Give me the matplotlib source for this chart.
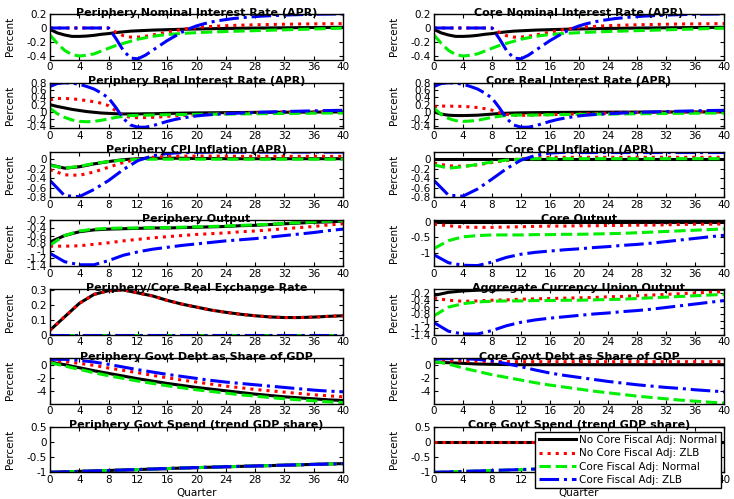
import matplotlib
matplotlib.use("Agg")
import matplotlib.pyplot as plt
import numpy as np

plt.rcParams['axes.unicode_minus'] = False
plt.rcParams['font.family'] = 'DejaVu Sans'

# quarters
Q1 = np.arange(0, 41, 1)
Q2 = np.arange(0, 41, 2)

# ---- nominal interest rate (same in both regions), quarterly
nom_black = [-0.02, -0.07, -0.10, -0.12, -0.12, -0.115, -0.105, -0.09, -0.08, -0.065, -0.055,
             -0.045, -0.04, -0.035, -0.03, -0.027, -0.024, -0.021, -0.018, -0.016, -0.014,
             -0.012, -0.01, -0.008, -0.006, -0.005, -0.004, -0.002, -0.001, 0.0, 0.001,
             0.002, 0.003, 0.004, 0.005, 0.006, 0.007, 0.008, 0.008, 0.009, 0.01]
nom_red = [0, 0, 0, 0, 0, 0, 0, 0, 0, -0.06, -0.11, -0.13, -0.13, -0.12, -0.10, -0.08, -0.06,
           -0.04, -0.02, -0.005, 0.005, 0.015, 0.022, 0.028, 0.033, 0.037, 0.04, 0.043, 0.046,
           0.048, 0.05, 0.052, 0.054, 0.055, 0.057, 0.058, 0.059, 0.06, 0.061, 0.062, 0.063]
nom_green = [-0.10, -0.22, -0.32, -0.38, -0.40, -0.39, -0.37, -0.33, -0.29, -0.25, -0.22,
             -0.19, -0.16, -0.14, -0.12, -0.105, -0.095, -0.085, -0.078, -0.072, -0.067,
             -0.062, -0.058, -0.054, -0.05, -0.047, -0.044, -0.041, -0.038, -0.035, -0.032,
             -0.029, -0.026, -0.023, -0.02, -0.017, -0.014, -0.011, -0.008, -0.005, -0.003]
nom_blue = [0, 0, 0, 0, 0, 0, 0, 0, 0, -0.15, -0.32, -0.43, -0.44, -0.39, -0.32, -0.25, -0.18,
            -0.12, -0.06, -0.01, 0.03, 0.06, 0.085, 0.105, 0.12, 0.135, 0.145, 0.155, 0.163,
            0.17, 0.175, 0.18, 0.184, 0.188, 0.191, 0.194, 0.196, 0.198, 0.199, 0.2, 0.2]

# ---- real interest rate, quarterly
per_real_black = [0.20, 0.15, 0.11, 0.07, 0.04, 0.01, -0.01, -0.03, -0.04, -0.05, -0.055,
                  -0.055, -0.055, -0.05, -0.05, -0.045, -0.04, -0.037, -0.034, -0.031, -0.028,
                  -0.026, -0.024, -0.022, -0.02, -0.018, -0.016, -0.014, -0.012, -0.011, -0.01,
                  -0.009, -0.008, -0.007, -0.006, -0.005, -0.004, -0.003, -0.002, -0.001, 0.0]
per_real_red = [0.33, 0.37, 0.37, 0.36, 0.34, 0.31, 0.28, 0.24, 0.17, 0.03, -0.10, -0.15, -0.16,
                -0.155, -0.15, -0.14, -0.12, -0.11, -0.10, -0.09, -0.08, -0.07, -0.06, -0.05,
                -0.045, -0.04, -0.035, -0.03, -0.025, -0.02, -0.015, -0.01, -0.007, -0.004,
                -0.001, 0.002, 0.005, 0.008, 0.01, 0.012, 0.014]
per_real_green = [0.10, -0.05, -0.15, -0.22, -0.26, -0.27, -0.26, -0.23, -0.19, -0.15, -0.12,
                  -0.10, -0.095, -0.09, -0.085, -0.08, -0.078, -0.075, -0.072, -0.07, -0.067,
                  -0.065, -0.063, -0.061, -0.059, -0.057, -0.055, -0.053, -0.051, -0.049, -0.047,
                  -0.045, -0.043, -0.041, -0.039, -0.037, -0.035, -0.033, -0.031, -0.03, -0.03]
real_blue = [0.70, 0.78, 0.80, 0.79, 0.76, 0.70, 0.63, 0.52, 0.38, 0.12, -0.18, -0.36, -0.42,
             -0.42, -0.38, -0.32, -0.26, -0.21, -0.17, -0.14, -0.11, -0.09, -0.075, -0.06, -0.05,
             -0.04, -0.03, -0.022, -0.015, -0.008, -0.002, 0.004, 0.01, 0.015, 0.02, 0.025, 0.03,
             0.034, 0.038, 0.041, 0.044]
core_real_black = [0.0, -0.06, -0.09, -0.10, -0.10, -0.095, -0.09, -0.075, -0.06, -0.045, -0.035,
                   -0.03, -0.025, -0.022, -0.02, -0.018, -0.016, -0.014, -0.013, -0.012, -0.011,
                   -0.01, -0.009, -0.008, -0.007, -0.006, -0.005, -0.005, -0.004, -0.004, -0.003,
                   -0.003, -0.002, -0.002, -0.001, -0.001, 0.0, 0.0, 0.0, 0.0, 0.0]
core_real_red = [0.15, 0.16, 0.16, 0.155, 0.15, 0.14, 0.12, 0.09, 0.05, -0.02, -0.07, -0.09,
                 -0.095, -0.09, -0.085, -0.08, -0.075, -0.07, -0.065, -0.06, -0.055, -0.05,
                 -0.045, -0.04, -0.035, -0.03, -0.026, -0.022, -0.018, -0.014, -0.01, -0.007,
                 -0.004, -0.001, 0.002, 0.005, 0.008, 0.01, 0.012, 0.014, 0.015]
core_real_green = [0.10, -0.07, -0.18, -0.24, -0.26, -0.25, -0.23, -0.19, -0.15, -0.12, -0.10,
                   -0.09, -0.085, -0.09, -0.085, -0.08, -0.078, -0.075, -0.072, -0.07, -0.067,
                   -0.065, -0.063, -0.061, -0.059, -0.057, -0.055, -0.053, -0.051, -0.049, -0.047,
                   -0.045, -0.043, -0.041, -0.039, -0.037, -0.035, -0.033, -0.031, -0.03, -0.03]

# ---- CPI inflation, every 2 quarters
per_cpi_black = [-0.12, -0.19, -0.16, -0.10, -0.05, -0.01, 0.01, 0.02, 0.02, 0.02, 0.015,
                 0.015, 0.01, 0.01, 0.01, 0.01, 0.01, 0.01, 0.01, 0.01, 0.01]
per_cpi_red = [-0.22, -0.33, -0.34, -0.27, -0.17, -0.07, 0.0, 0.04, 0.06, 0.065, 0.065,
               0.065, 0.065, 0.06, 0.06, 0.06, 0.06, 0.06, 0.06, 0.06, 0.06]
per_cpi_green = [-0.13, -0.19, -0.15, -0.09, -0.05, -0.02, -0.005, 0.0, 0.0, 0.0, 0.0,
                 0.0, 0.0, 0.0, 0.0, 0.0, 0.0, 0.0, 0.0, 0.0, 0.0]
per_cpi_blue = [-0.45, -0.77, -0.79, -0.64, -0.45, -0.22, -0.03, 0.07, 0.12, 0.14, 0.145,
                0.15, 0.15, 0.15, 0.15, 0.15, 0.15, 0.15, 0.15, 0.15, 0.15]
core_cpi_black = [0.0] * 21
core_cpi_red = [-0.08, -0.14, -0.15, -0.12, -0.07, -0.03, 0.01, 0.03, 0.04, 0.04, 0.04,
                0.04, 0.04, 0.04, 0.04, 0.04, 0.04, 0.04, 0.04, 0.04, 0.04]
core_cpi_green = [-0.12, -0.19, -0.16, -0.11, -0.06, -0.02, 0.0, 0.01, 0.01, 0.01, 0.01,
                  0.01, 0.01, 0.01, 0.01, 0.01, 0.01, 0.01, 0.01, 0.01, 0.01]
core_cpi_blue = [-0.45, -0.76, -0.78, -0.63, -0.42, -0.20, -0.02, 0.08, 0.13, 0.145, 0.14,
                 0.14, 0.14, 0.14, 0.14, 0.14, 0.14, 0.14, 0.14, 0.14, 0.14]

# ---- output
per_out_black = [-0.77, -0.60, -0.50, -0.45, -0.43, -0.42, -0.41, -0.40, -0.40, -0.39, -0.38,
                 -0.37, -0.36, -0.34, -0.33, -0.31, -0.29, -0.27, -0.25, -0.24, -0.22]
per_out_red = [-0.88, -0.88, -0.87, -0.83, -0.79, -0.74, -0.70, -0.66, -0.63, -0.60, -0.57,
               -0.55, -0.53, -0.50, -0.48, -0.45, -0.42, -0.39, -0.36, -0.32, -0.29]
per_out_green = [-0.85, -0.60, -0.48, -0.43, -0.41, -0.40, -0.40, -0.39, -0.39, -0.38, -0.37,
                 -0.36, -0.35, -0.33, -0.32, -0.30, -0.28, -0.26, -0.24, -0.22, -0.21]
per_out_blue = [-1.07, -1.29, -1.37, -1.37, -1.26, -1.12, -1.03, -0.96, -0.91, -0.86, -0.82,
                -0.78, -0.74, -0.71, -0.68, -0.64, -0.60, -0.56, -0.52, -0.47, -0.43]
core_out_black = [0.0] * 21
core_out_red = [-0.08, -0.13, -0.17, -0.18, -0.18, -0.17, -0.16, -0.15, -0.14, -0.14, -0.13,
                -0.13, -0.12, -0.12, -0.11, -0.11, -0.10, -0.09, -0.08, -0.08, -0.07]
core_out_green = [-0.85, -0.60, -0.48, -0.44, -0.42, -0.42, -0.42, -0.41, -0.41, -0.40, -0.40,
                  -0.39, -0.38, -0.37, -0.35, -0.33, -0.31, -0.29, -0.27, -0.25, -0.23]
core_out_blue = [-1.05, -1.30, -1.38, -1.39, -1.28, -1.13, -1.03, -0.97, -0.93, -0.89, -0.86,
                 -0.82, -0.79, -0.75, -0.72, -0.68, -0.63, -0.58, -0.53, -0.48, -0.43]

# ---- real exchange rate / aggregate output
rer_black = [0.03, 0.12, 0.21, 0.27, 0.295, 0.30, 0.28, 0.26, 0.23, 0.205, 0.185,
             0.165, 0.15, 0.137, 0.127, 0.119, 0.115, 0.115, 0.118, 0.123, 0.127]
rer_zero = [0.0] * 21
agg_black = [-0.26, -0.17, -0.13, -0.11, -0.10, -0.095, -0.09, -0.09, -0.09, -0.09, -0.09,
             -0.09, -0.09, -0.09, -0.09, -0.09, -0.09, -0.09, -0.09, -0.09, -0.09]
agg_red = [-0.34, -0.40, -0.43, -0.42, -0.40, -0.39, -0.37, -0.36, -0.35, -0.34, -0.33,
           -0.32, -0.30, -0.29, -0.27, -0.25, -0.23, -0.21, -0.19, -0.17, -0.15]
agg_green = [-0.85, -0.60, -0.50, -0.45, -0.43, -0.42, -0.42, -0.41, -0.41, -0.40, -0.40,
             -0.39, -0.38, -0.37, -0.35, -0.33, -0.31, -0.29, -0.27, -0.25, -0.23]
agg_blue = [-1.05, -1.30, -1.38, -1.38, -1.28, -1.14, -1.04, -0.97, -0.92, -0.88, -0.84,
            -0.80, -0.77, -0.73, -0.70, -0.66, -0.61, -0.56, -0.51, -0.46, -0.41]

# ---- government debt
per_debt_black = [0.4, 0.0, -0.45, -0.9, -1.3, -1.7, -2.1, -2.45, -2.8, -3.1, -3.4,
                  -3.65, -3.9, -4.15, -4.4, -4.6, -4.8, -4.95, -5.1, -5.25, -5.35]
per_debt_red = [0.6, 0.45, 0.2, -0.1, -0.5, -0.85, -1.2, -1.6, -1.95, -2.3, -2.6,
                -2.9, -3.2, -3.45, -3.7, -3.9, -4.1, -4.3, -4.5, -4.65, -4.8]
per_debt_green = [0.3, -0.2, -0.7, -1.2, -1.65, -2.05, -2.45, -2.8, -3.15, -3.45, -3.75,
                  -4.0, -4.25, -4.5, -4.7, -4.9, -5.1, -5.25, -5.4, -5.55, -5.65]
per_debt_blue = [0.8, 0.8, 0.65, 0.4, 0.05, -0.35, -0.75, -1.1, -1.45, -1.75, -2.05,
                 -2.35, -2.6, -2.8, -3.0, -3.2, -3.4, -3.6, -3.8, -3.95, -4.05]
core_debt_black = [0.4, 0.3, 0.2, 0.1, 0.05, 0.02, 0.0, 0.0, 0.0, 0.0, 0.0,
                   0.0, 0.0, 0.0, 0.0, 0.0, 0.0, 0.0, 0.0, 0.0, 0.0]
core_debt_red = [0.6, 0.6, 0.55, 0.5, 0.48, 0.46, 0.45, 0.45, 0.45, 0.45, 0.45,
                 0.45, 0.45, 0.45, 0.45, 0.45, 0.45, 0.45, 0.45, 0.45, 0.45]
core_debt_green = [0.5, 0.1, -0.5, -1.0, -1.5, -1.9, -2.3, -2.7, -3.05, -3.35, -3.65,
                   -3.95, -4.2, -4.45, -4.7, -4.9, -5.1, -5.3, -5.45, -5.6, -5.75]
core_debt_blue = [0.85, 0.9, 0.9, 0.8, 0.55, 0.15, -0.3, -0.8, -1.25, -1.6, -1.9,
                  -2.2, -2.5, -2.75, -3.0, -3.2, -3.4, -3.55, -3.75, -3.9, -4.05]

# ---- government spending
spend_cut = [-1.0, -0.985, -0.97, -0.955, -0.94, -0.925, -0.91, -0.893, -0.877, -0.86, -0.845,
             -0.832, -0.818, -0.805, -0.792, -0.779, -0.765, -0.752, -0.739, -0.726, -0.713]
spend_zero = [0.0] * 21

labels = ['No Core Fiscal Adj: Normal', 'No Core Fiscal Adj: ZLB',
          'Core Fiscal Adj: Normal', 'Core Fiscal Adj: ZLB']

# (title, x, black, red, green, blue, ylim, yticks)
left = [
    ('Periphery Nominal Interest Rate (APR)', Q1, nom_black, nom_red, nom_green, nom_blue,
     (-0.45, 0.2), [-0.4, -0.2, 0, 0.2]),
    ('Periphery Real Interest Rate (APR)', Q1, per_real_black, per_real_red, per_real_green, real_blue,
     (-0.45, 0.8), [-0.4, -0.2, 0, 0.2, 0.4, 0.6, 0.8]),
    ('Periphery CPI Inflation (APR)', Q2, per_cpi_black, per_cpi_red, per_cpi_green, per_cpi_blue,
     (-0.8, 0.16), [-0.8, -0.6, -0.4, -0.2, 0]),
    ('Periphery Output', Q2, per_out_black, per_out_red, per_out_green, per_out_blue,
     (-1.4, -0.2), [-1.4, -1.2, -1, -0.8, -0.6, -0.4, -0.2]),
    ('Periphery/Core Real Exchange Rate', Q2, rer_black, rer_black, rer_zero, rer_zero,
     (0, 0.305), [0, 0.1, 0.2, 0.3]),
    ('Periphery Govt Debt as Share of GDP', Q2, per_debt_black, per_debt_red, per_debt_green, per_debt_blue,
     (-5.8, 1.0), [-4, -2, 0]),
    ('Periphery Govt Spend (trend GDP share)', Q2, spend_cut, spend_cut, spend_cut, spend_cut,
     (-1, 0.5), [-1, -0.5, 0, 0.5]),
]
right = [
    ('Core Nominal Interest Rate (APR)', Q1, nom_black, nom_red, nom_green, nom_blue,
     (-0.45, 0.2), [-0.4, -0.2, 0, 0.2]),
    ('Core Real Interest Rate (APR)', Q1, core_real_black, core_real_red, core_real_green, real_blue,
     (-0.45, 0.8), [-0.4, -0.2, 0, 0.2, 0.4, 0.6, 0.8]),
    ('Core CPI Inflation (APR)', Q2, core_cpi_black, core_cpi_red, core_cpi_green, core_cpi_blue,
     (-0.8, 0.16), [-0.8, -0.6, -0.4, -0.2, 0]),
    ('Core Output', Q2, core_out_black, core_out_red, core_out_green, core_out_blue,
     (-1.4, 0.04), [-1, -0.5, 0]),
    ('Aggregate Currency Union Output', Q2, agg_black, agg_red, agg_green, agg_blue,
     (-1.4, -0.08), [-1.4, -1.2, -1, -0.8, -0.6, -0.4, -0.2]),
    ('Core Govt Debt as Share of GDP', Q2, core_debt_black, core_debt_red, core_debt_green, core_debt_blue,
     (-5.8, 1.0), [-4, -2, 0]),
    ('Core Govt Spend (trend GDP share)', Q2, spend_zero, spend_zero, spend_cut, spend_cut,
     (-1, 0.5), [-1, -0.5, 0, 0.5]),
]

styles = [dict(color='black', linestyle='-'),
          dict(color='#ff0000', linestyle=':'),
          dict(color='#00ee00', linestyle='--'),
          dict(color='#0000ff', linestyle='-.')]

W, H = 734, 499
fig = plt.figure(figsize=(W / 100, H / 100), dpi=100)

col_x = [(50, 293), (434, 290)]
row_h = 45.5
handles = None
for c, panels in enumerate([left, right]):
    x0, w = col_x[c]
    for r, (title, x, kb, rd, gr, bl, ylim, yt) in enumerate(panels):
        top = 14 + r * 68.8
        ax = fig.add_axes([x0 / W, 1 - (top + row_h) / H, w / W, row_h / H])
        lines = []
        for y, st in zip([kb, rd, gr, bl], styles):
            ln, = ax.plot(x, y, linewidth=2.2, **st)
            lines.append(ln)
        handles = lines
        ax.set_xlim(0, 40)
        ax.set_ylim(*ylim)
        ax.set_xticks(range(0, 41, 4))
        ax.set_yticks(yt)
        ax.set_yticklabels([f'{v:g}' for v in yt])
        ax.tick_params(direction='in', top=True, right=True, length=3, width=0.8,
                       labelsize=7.5, pad=2, colors='black')
        for s in ax.spines.values():
            s.set_linewidth(1.0)
        ax.text(0.5, 0.965, title, transform=ax.transAxes, ha='center', va='baseline',
                fontsize=8, fontweight='bold', zorder=10)
        ax.set_ylabel('Percent', fontsize=7.5)
        ax.yaxis.set_label_coords(-0.12, 0.5)
        if r == 6:
            ax.set_xlabel('Quarter', fontsize=7.5, labelpad=2)
            if c == 1:
                leg = ax.legend(handles, labels, loc='upper left', bbox_to_anchor=(0.35, 0.89),
                                fontsize=7.5, frameon=True, fancybox=False, framealpha=1,
                                edgecolor='black', handlelength=3.6, labelspacing=0.32,
                                borderpad=0.3, handletextpad=0.3, borderaxespad=0)
                leg.get_frame().set_linewidth(1.0)
                leg.set_zorder(20)

fig.savefig('out.png', dpi=100)
